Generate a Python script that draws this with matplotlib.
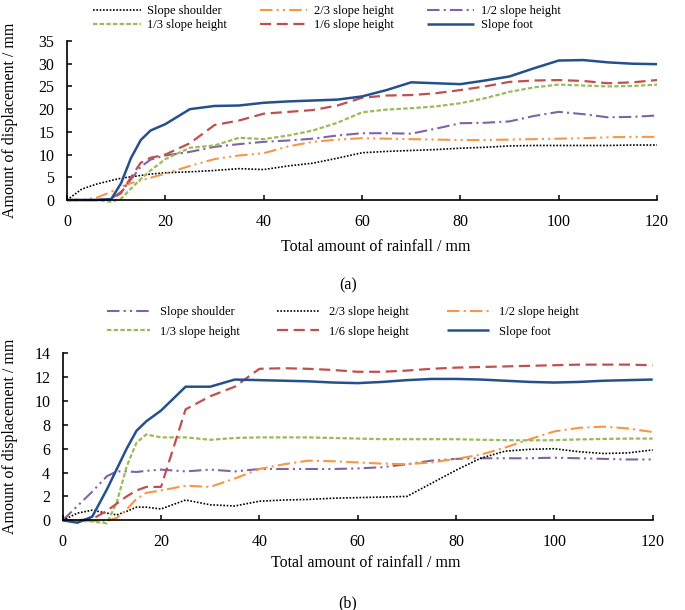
import matplotlib
matplotlib.use("Agg")
import matplotlib.pyplot as plt

plt.rcParams['font.family'] = ['Liberation Serif', 'DejaVu Serif']

# rainfall (mm) sampling points shared by every curve
rain = [0, 3, 6, 9, 11, 13, 15, 17, 20, 25, 30, 35, 40, 45, 50, 55, 60,
        65, 70, 75, 80, 85, 90, 95, 100, 105, 110, 115, 120]

# panel (a)
shoulder_a = [0, 2.4, 3.5, 4.3, 4.8, 5.1, 5.4, 5.7, 6.0, 6.2, 6.5, 6.9, 6.7, 7.5, 8.1, 9.2, 10.4,
              10.7, 10.9, 11.1, 11.4, 11.6, 11.9, 12.0, 12.0, 12.0, 12.0, 12.1, 12.1]
h23_a = [0, 0, 0.5, 1.8, 2.9, 3.7, 4.3, 4.9, 5.8, 7.5, 9.0, 9.8, 10.3, 11.8, 12.8, 13.3, 13.6,
         13.5, 13.4, 13.3, 13.2, 13.2, 13.3, 13.4, 13.5, 13.6, 13.8, 13.9, 13.9]
h12_a = [0, 0, 0, 0.3, 1.8, 4.5, 7.3, 8.9, 9.8, 10.6, 11.7, 12.3, 12.8, 13.1, 13.5, 14.2, 14.7,
         14.7, 14.6, 15.7, 16.9, 17.0, 17.3, 18.5, 19.4, 18.9, 18.2, 18.3, 18.6]
h13_a = [0, 0, 0, -0.4, 0.3, 2.5, 4.6, 6.5, 9.0, 11.5, 12.0, 13.7, 13.4, 14.2, 15.3, 17.0, 19.3,
         19.9, 20.2, 20.6, 21.3, 22.4, 23.8, 24.8, 25.4, 25.2, 25.0, 25.1, 25.4]
h16_a = [0, 0, 0, 0.2, 1.5, 5.0, 8.2, 9.3, 10.0, 12.5, 16.5, 17.5, 19.0, 19.4, 19.8, 20.8, 22.5,
         23.0, 23.1, 23.5, 24.2, 25.0, 26.0, 26.3, 26.4, 26.2, 25.7, 25.9, 26.4]
foot_a = [0, 0, 0, 0.2, 3.7, 9.2, 13.2, 15.3, 16.7, 20.0, 20.7, 20.8, 21.4, 21.7, 21.9, 22.1, 22.8,
          24.2, 25.9, 25.7, 25.5, 26.3, 27.2, 29.0, 30.7, 30.8, 30.3, 30.0, 29.9]

# panel (b)
shoulder_b = [0, 1.2, 2.4, 3.7, 4.1, 4.1, 4.05, 4.15, 4.25, 4.1, 4.25, 4.1, 4.3, 4.3, 4.3, 4.3, 4.35,
              4.45, 4.7, 5.0, 5.15, 5.2, 5.2, 5.2, 5.25, 5.2, 5.15, 5.1, 5.1]
h23_b = [0, 0.6, 0.85, 0.6, 0.45, 0.75, 1.1, 1.1, 0.95, 1.7, 1.3, 1.2, 1.6, 1.7, 1.75, 1.85, 1.9,
         1.95, 2.0, 3.1, 4.2, 5.2, 5.8, 5.95, 6.0, 5.75, 5.6, 5.65, 5.9]
h12_b = [0, 0, -0.05, -0.05, 0.2, 0.9, 1.8, 2.3, 2.5, 2.9, 2.8, 3.5, 4.3, 4.7, 5.0, 4.95, 4.85,
         4.75, 4.7, 4.85, 5.15, 5.5, 6.1, 6.8, 7.45, 7.75, 7.85, 7.7, 7.4]
h13_b = [0, -0.05, -0.1, -0.25, 1.5, 4.5, 6.5, 7.2, 6.95, 6.95, 6.75, 6.9, 6.95, 6.95, 6.95, 6.9, 6.85,
         6.8, 6.8, 6.8, 6.8, 6.75, 6.72, 6.7, 6.72, 6.78, 6.82, 6.85, 6.85]
h16_b = [0, 0, 0.1, 0.8, 1.4, 2.0, 2.5, 2.8, 2.8, 9.3, 10.4, 11.2, 12.7, 12.75, 12.7, 12.6, 12.45,
         12.45, 12.55, 12.7, 12.8, 12.85, 12.9, 12.95, 13.0, 13.05, 13.05, 13.05, 13.0]
foot_b = [0, -0.2, 0.3, 2.6, 4.3, 6.0, 7.5, 8.3, 9.2, 11.2, 11.2, 11.8, 11.75, 11.7, 11.65, 11.55, 11.5,
          11.6, 11.75, 11.85, 11.85, 11.8, 11.7, 11.6, 11.55, 11.6, 11.7, 11.75, 11.8]

names = ['Slope shoulder', '2/3 slope height', '1/2 slope height',
         '1/3 slope height', '1/6 slope height', 'Slope foot']

BLUE = '#25508e'
RED = '#c0504d'
GREEN = '#9bbb59'
PURPLE = '#8064a2'
ORANGE = '#f79646'

dotted = dict(color='black', lw=1.2, ls=(0, (1, 1)))
dashdotdot = (0, (6, 2, 1, 2, 1, 2))
dashdot = (0, (6, 2, 1, 2))

styles_a = [dotted,
            dict(color=ORANGE, lw=1.5, ls=dashdotdot),
            dict(color=PURPLE, lw=1.5, ls=dashdot),
            dict(color=GREEN, lw=1.6, ls=(0, (2, 1))),
            dict(color=RED, lw=1.6, ls=(0, (5, 2.5))),
            dict(color=BLUE, lw=1.8, ls='-')]
styles_b = [dict(color=PURPLE, lw=1.5, ls=dashdotdot),
            dotted,
            dict(color=ORANGE, lw=1.5, ls=dashdot),
            dict(color=GREEN, lw=1.6, ls=(0, (2, 1))),
            dict(color=RED, lw=1.6, ls=(0, (5, 2.5))),
            dict(color=BLUE, lw=1.8, ls='-')]

fig = plt.figure(figsize=(6.85, 6.1), dpi=100)
W, H = 685, 610


def setup(ax, ymax, ystep):
    ax.set_xlim(0, 120)
    ax.set_ylim(0, ymax)
    ax.set_xticks(range(0, 121, 20))
    ax.set_yticks(range(0, ymax + 1, ystep))
    for s in ['top', 'right']:
        ax.spines[s].set_visible(False)
    for s in ['left', 'bottom']:
        ax.spines[s].set_linewidth(1.2)
    ax.tick_params(direction='in', length=3.5, width=1.1, labelsize=11.5)
    ax.tick_params(axis='x', pad=10)
    ax.tick_params(axis='y', pad=9)
    ax.set_xlabel('Total amount of rainfall / mm', fontsize=11.5)
    ax.set_ylabel('Amount of displacement / mm', fontsize=11.5)


def draw(ax, series, styles):
    lines = []
    for y, st in zip(series, styles):
        ln, = ax.plot(rain, y, clip_on=False, solid_capstyle='butt', **st)
        lines.append(ln)
    return lines


# panel (a)
ax1 = fig.add_axes([67 / W, 1 - 200 / H, 590 / W, 159 / H])
lines_a = draw(ax1, [shoulder_a, h23_a, h12_a, h13_a, h16_a, foot_a], styles_a)
setup(ax1, 35, 5)
ax1.xaxis.set_label_coords(0.524, -0.245)
ax1.yaxis.set_label_coords(-0.083, 0.5)

# panel (b)
ax2 = fig.add_axes([62.7 / W, 1 - 520.3 / H, 590 / W, 167 / H])
lines_b = draw(ax2, [shoulder_b, h23_b, h12_b, h13_b, h16_b, foot_b], styles_b)
setup(ax2, 14, 2)
ax2.xaxis.set_label_coords(0.514, -0.205)
ax2.yaxis.set_label_coords(-0.076, 0.5)

# legends: 3 columns, row-wise order
order = [0, 3, 1, 4, 2, 5]
fig.legend([lines_a[i] for i in order], [names[i] for i in order], ncol=3,
           loc='upper left', bbox_to_anchor=(93 / W, 1 - 5 / H), frameon=False,
           fontsize=9, handlelength=3.8, handletextpad=0.55, columnspacing=2.6,
           labelspacing=0.15, borderpad=0, borderaxespad=0)
fig.legend([lines_b[i] for i in order], [names[i] for i in order], ncol=3,
           loc='upper left', bbox_to_anchor=(107 / W, 1 - 306 / H), frameon=False,
           fontsize=9, handlelength=3.4, handletextpad=0.8, columnspacing=3.0,
           labelspacing=0.6, borderpad=0, borderaxespad=0)

fig.text(348 / W, 1 - 285 / H, '(a)', ha='center', va='center', fontsize=11.5)
fig.text(348 / W, 1 - 603 / H, '(b)', ha='center', va='center', fontsize=11.5)

fig.savefig('out.png', dpi=100)
